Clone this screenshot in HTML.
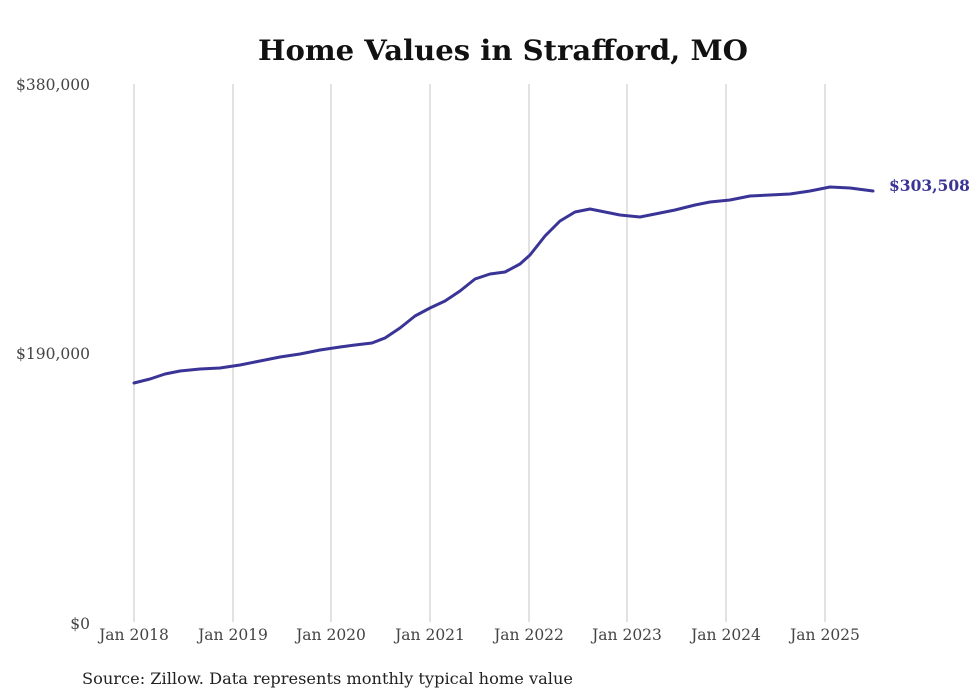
<!DOCTYPE html>
<html><head><meta charset="utf-8"><style>
html,body{margin:0;padding:0;background:#fff;}
svg{display:block;font-family:"DejaVu Serif","Liberation Serif",serif;}
</style></head><body>
<svg width="980" height="699" viewBox="0 0 980 699" xmlns="http://www.w3.org/2000/svg">
<rect width="980" height="699" fill="#fff"/>
<text x="258" y="60" font-size="28" font-weight="bold" fill="#111" textLength="490" lengthAdjust="spacingAndGlyphs">Home Values in Strafford, MO</text>
<g stroke="#c4c4c4" stroke-width="1">
<line x1="134" y1="84" x2="134" y2="622"/>
<line x1="233" y1="84" x2="233" y2="622"/>
<line x1="331" y1="84" x2="331" y2="622"/>
<line x1="430" y1="84" x2="430" y2="622"/>
<line x1="529" y1="84" x2="529" y2="622"/>
<line x1="627" y1="84" x2="627" y2="622"/>
<line x1="726" y1="84" x2="726" y2="622"/>
<line x1="825" y1="84" x2="825" y2="622"/>
</g>
<g font-size="15.5" fill="#444" text-anchor="end">
<text x="90" y="90">$380,000</text>
<text x="90" y="359">$190,000</text>
<text x="90" y="629">$0</text>
</g>
<g font-size="15.5" fill="#444" text-anchor="middle">
<text x="134" y="640">Jan 2018</text>
<text x="233" y="640">Jan 2019</text>
<text x="331" y="640">Jan 2020</text>
<text x="430" y="640">Jan 2021</text>
<text x="529" y="640">Jan 2022</text>
<text x="627" y="640">Jan 2023</text>
<text x="726" y="640">Jan 2024</text>
<text x="825" y="640">Jan 2025</text>
</g>
<polyline fill="none" stroke="#3a3496" stroke-width="3" stroke-linejoin="round" stroke-linecap="round"
points="134,383 150,379 165,374 180,371 200,369 220,368 240,365 260,361 280,357 300,354 320,350 340,347 355,345 372,343 385,338 400,328 415,316 430,308 445,301 460,291 475,279 490,274 505,272 520,264 530,255 545,236 560,221 575,212 590,209 605,212 620,215 640,217 655,214 675,210 695,205 710,202 730,200 750,196 770,195 790,194 810,191 830,187 850,188 873,191"/>
<text x="889" y="191" font-size="15.5" font-weight="bold" fill="#3a3496">$303,508</text>
<text x="82" y="684" font-size="16" fill="#222" textLength="491" lengthAdjust="spacingAndGlyphs">Source: Zillow. Data represents monthly typical home value</text>
</svg>
</body></html>
